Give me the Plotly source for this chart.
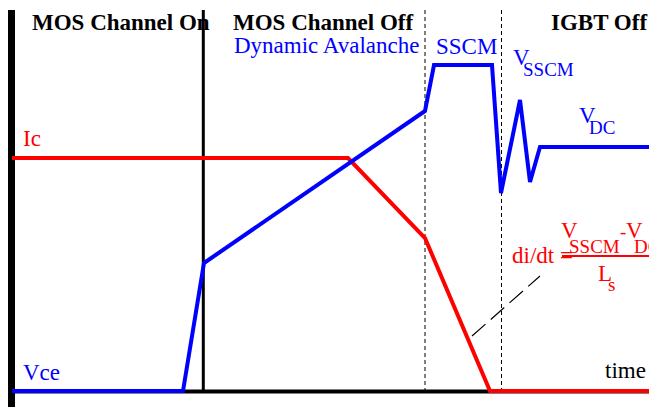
import plotly.graph_objects as go

# ---- data (arbitrary time / amplitude units) ----
t_vce = [0, 171, 192, 413, 422, 480, 489, 508, 518, 528, 653]
vce = [0, 0, 128, 280, 326, 326, 198, 291, 209, 244, 244]

t_ic = [0, 336, 413, 478, 653]
ic = [233, 233, 153, 0, 0]

gate_off_t = 191.3             # MOS channel off (solid line)
phase_dashed_t = [413, 489.5]  # SSCM start, IGBT off
t_end = 653
y_top = 381

BLUE = "#0000ff"
RED = "#ff0000"
FONT = "Liberation Serif, Times New Roman, serif"

fig = go.Figure()
fig.add_trace(go.Scatter(x=t_ic, y=ic, mode="lines",
                         line=dict(color=RED, width=4), hoverinfo="skip"))
fig.add_trace(go.Scatter(x=t_vce, y=vce, mode="lines",
                         line=dict(color=BLUE, width=4), hoverinfo="skip"))

shapes = []
# left axis (thick)
shapes.append(dict(type="line", x0=-1, x1=-1, y0=y_top, y1=-24,
                   line=dict(color="black", width=8), layer="below"))
# bottom axis
shapes.append(dict(type="line", x0=0, x1=t_end, y0=-0.5, y1=-0.5,
                   line=dict(color="black", width=4), layer="below"))
# MOS channel off boundary
shapes.append(dict(type="line", x0=gate_off_t, x1=gate_off_t, y0=y_top, y1=0,
                   line=dict(color="black", width=3), layer="below"))
for xt in phase_dashed_t:
    shapes.append(dict(type="line", x0=xt, x1=xt, y0=y_top, y1=0,
                       line=dict(color="black", width=1, dash="4px,3px"),
                       layer="below"))
# di/dt pointer
shapes.append(dict(type="line", x0=460, x1=528, y0=55, y1=115,
                   line=dict(color="black", width=1.2, dash="18px,7px")))
# fraction bar
shapes.append(dict(type="line", x0=550, x1=640, y0=135, y1=135,
                   line=dict(color=RED, width=2)))

def ann(text, x, y, color="black", size=23, bold=False, xanchor="left"):
    if bold:
        text = "<b>" + text + "</b>"
    return dict(text=text, x=x, y=y, xref="x", yref="y", showarrow=False,
                xanchor=xanchor, yanchor="middle",
                font=dict(family=FONT, size=size, color=color))

annotations = [
    ann("MOS Channel On", 18, 368.8, bold=True),
    ann("MOS Channel Off", 219, 368.8, bold=True),
    ann("IGBT Off", 537, 368.8, bold=True),
    ann("Dynamic Avalanche", 220, 345.8, color=BLUE),
    ann("SSCM", 422, 344.8, color=BLUE),
    ann("V", 499, 333.8, color=BLUE),
    ann("SSCM", 509, 321.4, color=BLUE, size=19),
    ann("V", 565, 275.8, color=BLUE),
    ann("DC", 575, 263.4, color=BLUE, size=19),
    ann("Ic", 9, 252.1, color=RED),
    ann("Vce", 9, 18.8, color=BLUE),
    ann("time", 636, 20.5, xanchor="right"),
    ann("di/dt =", 498, 136, color=RED),
    ann("V", 547, 160.8, color=RED),
    ann("SSCM", 555, 144.4, color=RED, size=19),
    ann("-", 606, 160, color=RED, size=19),
    ann("V", 612, 160.8, color=RED),
    ann("DC", 620, 144.4, color=RED, size=19),
    ann("L", 584, 117.8, color=RED),
    ann("s", 594, 106.4, color=RED, size=19),
]

# The page body has an 8px margin; ranges are shifted so that the
# visible window matches the reference framing.
fig.update_layout(
    width=657, height=407,
    margin=dict(l=0, r=0, t=0, b=0),
    paper_bgcolor="white", plot_bgcolor="white",
    showlegend=False,
    xaxis=dict(range=[-4, 653], visible=False, fixedrange=True),
    yaxis=dict(range=[-24, 383], visible=False, fixedrange=True),
    shapes=shapes, annotations=annotations,
)

fig.write_html("out.html")
